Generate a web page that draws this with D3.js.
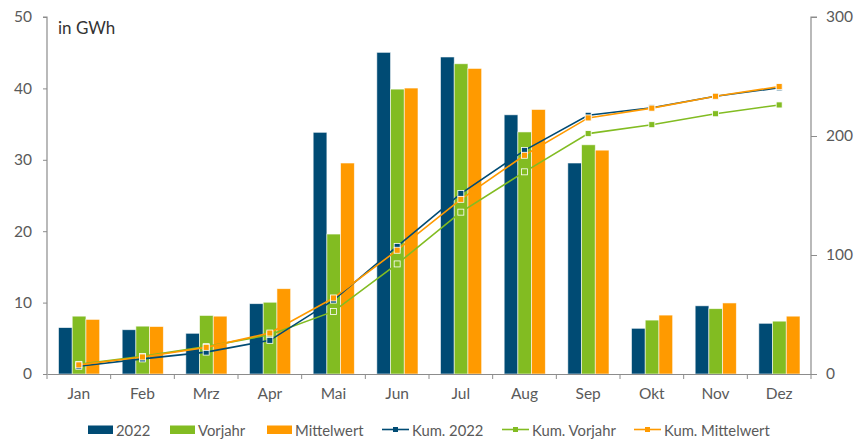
<!DOCTYPE html>
<html><head><meta charset="utf-8">
<script src="https://cdn.jsdelivr.net/npm/d3@7"></script>
<style>
html,body{margin:0;padding:0;background:#fff;}
text{font-family:Lato,"Noto Sans",sans-serif;}
</style></head>
<body><svg id="c" width="860" height="439"></svg>
<script>
const months = ["Jan","Feb","Mrz","Apr","Mai","Jun","Jul","Aug","Sep","Okt","Nov","Dez"];
const v2022 = [6.5, 6.2, 5.7, 9.85, 33.85, 45.05, 44.4, 36.3, 29.55, 6.4, 9.55, 7.1];
const vVorjahr = [8.1, 6.7, 8.2, 10.05, 19.6, 39.9, 43.45, 33.9, 32.1, 7.55, 9.15, 7.4];
const vMittel = [7.65, 6.65, 8.1, 11.95, 29.55, 40.05, 42.8, 37.05, 31.35, 8.25, 9.95, 8.1];
const kum2022 = [6.5, 12.7, 18.4, 28.3, 62.1, 107.2, 151.6, 187.9, 217.4, 223.8, 233.4, 240.5];
const kumVorjahr = [8.1, 14.8, 23.0, 33.0, 52.6, 92.5, 136.0, 169.9, 202.0, 209.5, 218.7, 226.1];
const kumMittel = [7.65, 14.3, 22.4, 34.4, 63.9, 104.0, 146.8, 183.8, 215.2, 223.4, 233.4, 241.5];
const leftTicks = [0, 10, 20, 30, 40, 50];
const rightTicks = [0, 100, 200, 300];
const barSeries = ["2022", "Vorjahr", "Mittelwert"];
const lineSeries = ["Kum. 2022", "Kum. Vorjahr", "Kum. Mittelwert"];
const colors = ["#004b74", "#82bc22", "#ff9a00"];

const svg = d3.select("#c");
const L = 47, R = 811, T = 17, B = 374;
const FONT = 'Lato,"Noto Sans",sans-serif';
const x = d3.scaleBand().domain(months).range([L, R]).padding(0);
const x1 = d3.scaleBand().domain(barSeries).range([11.5, x.bandwidth() - 11]).padding(0);
const yL = d3.scaleLinear().domain([0, 50]).range([B, T]);
const yR = d3.scaleLinear().domain([0, 300]).range([B, T]);
const axisCol = "#8c8c8c", textCol = "#5a5a5a";

// bars
const barData = [v2022, vVorjahr, vMittel];
barSeries.forEach((s, si) => {
  svg.append("g").selectAll("rect").data(months).join("rect")
    .attr("x", m => x(m) + x1(s))
    .attr("width", x1.bandwidth())
    .attr("y", (m, i) => yL(barData[si][i]))
    .attr("height", (m, i) => B - yL(barData[si][i]))
    .attr("fill", colors[si])
    .attr("stroke", "#fff").attr("stroke-width", 0.8).attr("stroke-opacity", 0.7);
});

// axes
const gL = svg.append("g").attr("transform", `translate(${L},0)`)
  .call(d3.axisLeft(yL).tickValues(leftTicks).tickSize(4).tickPadding(11));
const gR = svg.append("g").attr("transform", `translate(${R},0)`)
  .call(d3.axisRight(yR).tickValues(rightTicks).tickSize(6).tickPadding(9));
const gX = svg.append("g").attr("transform", `translate(0,${B})`)
  .call(d3.axisBottom(x).tickSize(0).tickPadding(14));
svg.append("g").selectAll("line").data(months.concat(["_end"])).join("line")
  .attr("x1", (m, i) => i < months.length ? x(m) : R)
  .attr("x2", (m, i) => i < months.length ? x(m) : R)
  .attr("y1", B).attr("y2", B + 5)
  .attr("stroke", axisCol).attr("stroke-width", 1);
[gL, gR, gX].forEach(g => {
  g.selectAll("path").attr("stroke", axisCol).attr("stroke-width", 1.2);
  g.selectAll("line").attr("stroke", axisCol);
  g.selectAll("text").attr("fill", textCol).style("font-size", "15.5px")
    .style("font-family", FONT);
});
gL.select(".domain").attr("d", `M-4,${T}H0V${B}`);
gR.select(".domain").attr("d", `M6,${T}H0V${B}`);

svg.append("text").attr("x", 58).attr("y", 34).text("in GWh")
  .attr("fill", "#333").style("font-size", "17px");

// cumulative lines
const lineData = [kum2022, kumVorjahr, kumMittel];
const cx = m => x(m) + x.bandwidth() / 2;
const lineGen = d3.line().x((d, i) => cx(months[i])).y(d => yR(d));
[1, 0, 2].forEach(si => {
  svg.append("path").datum(lineData[si]).attr("d", lineGen)
    .attr("fill", "none").attr("stroke", colors[si]).attr("stroke-width", 1.6);
});
[1, 0, 2].forEach(si => {
  svg.append("g").selectAll("rect").data(lineData[si]).join("rect")
    .attr("x", (d, i) => cx(months[i]) - 3)
    .attr("y", d => yR(d) - 3)
    .attr("width", 6).attr("height", 6)
    .attr("fill", colors[si]).attr("stroke", "#fff").attr("stroke-width", 0.8);
});

// legend
const lg = svg.append("g");
const barLegX = [88, 170, 267];
barSeries.forEach((s, i) => {
  lg.append("rect").attr("x", barLegX[i]).attr("y", 425.5).attr("width", 25).attr("height", 8.5).attr("fill", colors[i]);
  lg.append("text").attr("x", barLegX[i] + 28).attr("y", 435.5).text(s)
    .attr("fill", textCol).style("font-size", "14.8px");
});
const lineLegX = [382, 502, 634];
lineSeries.forEach((s, i) => {
  lg.append("line").attr("x1", lineLegX[i]).attr("x2", lineLegX[i] + 27).attr("y1", 429.5).attr("y2", 429.5)
    .attr("stroke", colors[i]).attr("stroke-width", 1.6);
  lg.append("rect").attr("x", lineLegX[i] + 11).attr("y", 427).attr("width", 5).attr("height", 5).attr("fill", colors[i]);
  lg.append("text").attr("x", lineLegX[i] + 30).attr("y", 435.5).text(s)
    .attr("fill", textCol).style("font-size", "14.8px");
});
</script></body></html>
